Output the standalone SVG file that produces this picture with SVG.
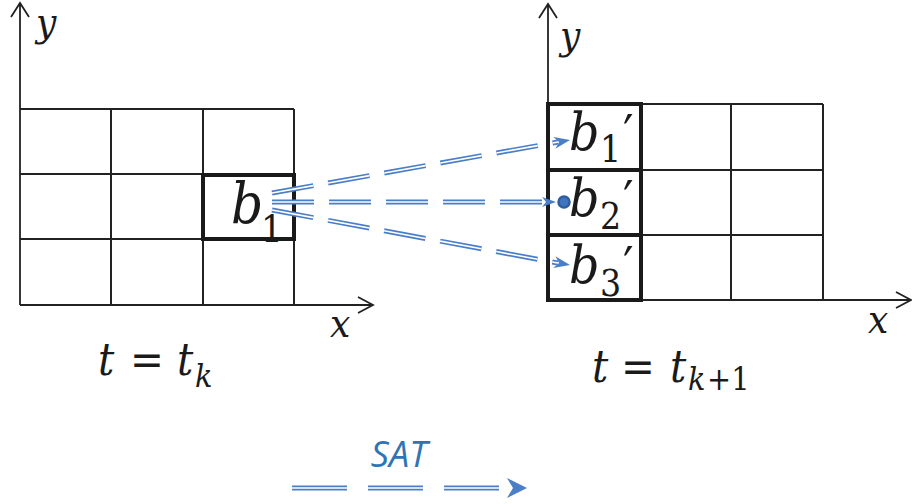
<svg xmlns="http://www.w3.org/2000/svg" width="912" height="504" viewBox="0 0 912 504">
<style>
.grid{fill:none;stroke:#222;stroke-width:2}
.thick{fill:none;stroke:#1a1a1a;stroke-width:4}
.axis{fill:none;stroke:#222;stroke-width:1.8}
.math{font-family:"DejaVu Serif Condensed","DejaVu Serif",serif;font-stretch:condensed;font-style:italic;fill:#1a1a1a}
.up{font-style:normal}
.outer{fill:none;stroke:#4A7EC7;stroke-width:5;stroke-dasharray:42 15}
.inner{fill:none;stroke:#fff;stroke-width:1.6;stroke-dasharray:42 15}
.head{fill:#4A7EC7}
</style>
<rect width="912" height="504" fill="#fff"/>

<g id="left-frame">
  <path class="grid" d="M20 109H294M20 174H294M20 239H294M111 109V305M203 109V305M294 109V305"/>
  <path class="axis" d="M20 305V3M11 17L20 3L29 17M20 305H373M358 297L373 305L358 313"/>
  <text class="math" x="36" y="36" font-size="40">y</text>
  <text class="math" x="330" y="337" font-size="40">x</text>
</g>

<g id="b1">
  <rect class="thick" x="203" y="175" width="91" height="64"/>
  <text class="math" x="231" y="223" font-size="56">b</text>
  <text class="math up" x="261" y="242" font-size="38">1</text>
</g>

<g id="right-frame">
  <path class="grid" d="M548 104H823M548 170H823M548 235H823M641 104V300M731 104V300M823 104V300"/>
  <path class="axis" d="M548 300V4M539 18L548 4L557 18M548 300H911M896 292L911 300L896 308"/>
  <text class="math" x="560" y="49" font-size="40">y</text>
  <text class="math" x="868" y="333" font-size="40">x</text>
</g>

<g id="b1p">
  <rect class="thick" x="548" y="104" width="93" height="66"/>
  <text class="math" x="569" y="150" font-size="53">b</text>
  <text class="math up" x="600" y="162" font-size="37">1</text>
  <text class="math up" x="623" y="152" font-size="52">′</text>
</g>
<g id="b2p">
  <rect class="thick" x="548" y="170" width="93" height="65"/>
  <text class="math" x="569" y="216" font-size="53">b</text>
  <text class="math up" x="600" y="229" font-size="37">2</text>
  <text class="math up" x="623" y="218" font-size="52">′</text>
</g>
<g id="b3p">
  <rect class="thick" x="548" y="235" width="93" height="65"/>
  <text class="math" x="569" y="283" font-size="53">b</text>
  <text class="math up" x="600" y="296" font-size="37">3</text>
  <text class="math up" x="623" y="284" font-size="52">′</text>
</g>

<g id="label-tk">
  <text class="math" x="98" y="375" font-size="45">t</text>
  <text class="math up" x="130" y="375" font-size="45">=</text>
  <text class="math" x="177" y="375" font-size="45">t</text>
  <text class="math" x="195" y="387" font-size="32">k</text>
</g>
<g id="label-tk1">
  <text class="math" x="592" y="382" font-size="45">t</text>
  <text class="math up" x="621" y="382" font-size="45">=</text>
  <text class="math" x="670" y="382" font-size="45">t</text>
  <text class="math" x="688" y="390" font-size="32">k</text>
  <text class="math up" x="707" y="390" font-size="32">+1</text>
</g>

<g id="connectors">
  <path class="outer" d="M272 193L558 142"/>
  <path class="inner" d="M272 193L558 142"/>
  <path class="outer" d="M272 202L546 202"/>
  <path class="inner" d="M272 202L546 202"/>
  <path class="outer" d="M272 210L558 263"/>
  <path class="inner" d="M272 210L558 263"/>
  <polygon class="head" points="0,0 -16,-6 -11,0 -16,6" transform="translate(570 140) rotate(-10.1)"/>
  <polygon class="head" points="0,0 -14,-5 -10,0 -14,5" transform="translate(556 202)"/>
  <polygon class="head" points="0,0 -16,-6 -11,0 -16,6" transform="translate(570 265) rotate(10.5)"/>
  <circle cx="564" cy="202" r="5.5" fill="#3F74C0" stroke="#2F5D9E" stroke-width="2.5"/>
</g>

<g id="legend">
  <text x="399" y="467" font-family="'Open Sans','Liberation Sans',sans-serif" font-style="italic" font-size="36" fill="#2E75B6" text-anchor="middle">SAT</text>
  <path d="M292 488H502" fill="none" stroke="#4A7EC7" stroke-width="5" stroke-dasharray="55 21"/>
  <path d="M292 488H502" fill="none" stroke="#fff" stroke-width="1.6" stroke-dasharray="55 21"/>
  <polygon points="527,488 507,478 513,488 507,498" fill="#4A7EC7"/>
</g>
</svg>
